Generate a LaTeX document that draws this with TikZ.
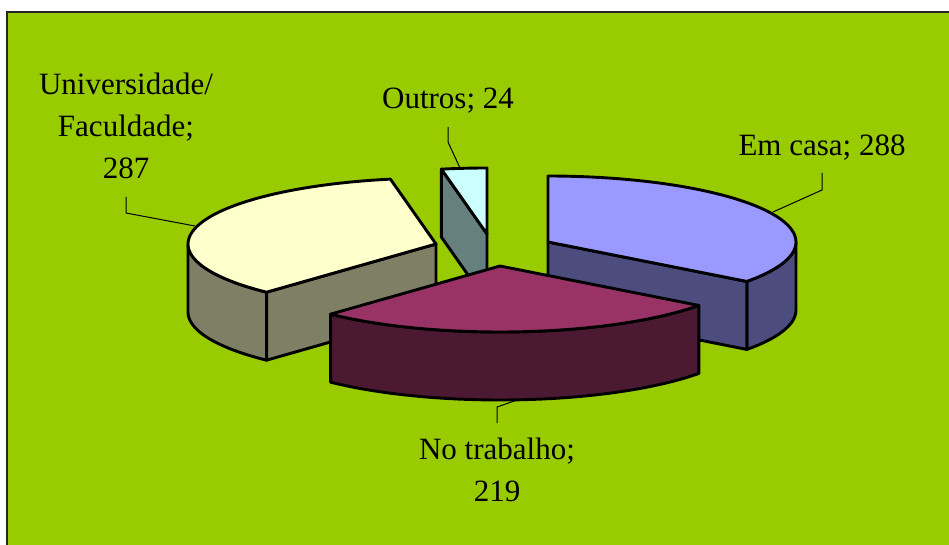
\documentclass[tikz,border=0pt]{standalone}
\usepackage{fontspec}
\setmainfont{Liberation Serif}
\definecolor{bggreen}{HTML}{99CC00}
\definecolor{uniTop}{HTML}{FFFFCC}
\definecolor{uniSide}{HTML}{7F7F66}
\definecolor{outTop}{HTML}{CCFFFF}
\definecolor{outSide}{HTML}{667F7F}
\definecolor{casaTop}{HTML}{9999FF}
\definecolor{casaSide}{HTML}{4C4C7F}
\definecolor{trabTop}{HTML}{993366}
\definecolor{trabSide}{HTML}{4C1933}
\tikzset{
  face/.style={draw=black, line width=2.9pt, line join=round},
  lbl/.style={font=\fontsize{31}{42}\selectfont, inner sep=0pt, align=center},
  leader/.style={draw=black, line width=1pt},
}
\def\RX{248}
\def\RY{66}
\def\HH{68}
\begin{document}
\begin{tikzpicture}[x=1pt,y=-1pt]
\useasboundingbox (0,0) rectangle (949,545);
\clip (0,0) rectangle (949,545);
\fill[white] (0,0) rectangle (949,545);
\fill[bggreen] (7,12) rectangle (955,550);
\draw[black!85, line width=2pt] (7,550) -- (7,12) -- (955,12);

% ---- Outros (center 487,234; 259.4 -> 270)
\filldraw[face, fill=outSide] (487,234) -- ({487+\RX*cos(259.4)},{234+\RY*sin(259.4)})
  -- ({487+\RX*cos(259.4)},{234+\HH+\RY*sin(259.4)}) -- (487,234+\HH) -- cycle;
\filldraw[face, fill=outTop] (487,234) -- plot[domain=259.4:270, samples=6] ({487+\RX*cos(\x)},{234+\RY*sin(\x)}) -- cycle;

% ---- Universidade (center 436,244; 133.1 -> 259.4)
\filldraw[face, fill=uniSide] plot[domain=133.1:180, samples=30] ({436+\RX*cos(\x)},{244+\RY*sin(\x)})
  -- plot[domain=180:133.1, samples=30] ({436+\RX*cos(\x)},{244+\HH+\RY*sin(\x)}) -- cycle;
\filldraw[face, fill=uniSide] (436,244) -- ({436+\RX*cos(133.1)},{244+\RY*sin(133.1)})
  -- ({436+\RX*cos(133.1)},{244+\HH+\RY*sin(133.1)}) -- (436,244+\HH) -- cycle;
\filldraw[face, fill=uniTop] (436,244) -- plot[domain=133.1:259.4, samples=60] ({436+\RX*cos(\x)},{244+\RY*sin(\x)}) -- cycle;

% ---- Em casa (center 548,242; -90 -> 36.7)
\filldraw[face, fill=casaSide] plot[domain=0:36.7, samples=25] ({548+\RX*cos(\x)},{242+\RY*sin(\x)})
  -- plot[domain=36.7:0, samples=25] ({548+\RX*cos(\x)},{242+\HH+\RY*sin(\x)}) -- cycle;
\filldraw[face, fill=casaSide] (548,242) -- ({548+\RX*cos(36.7)},{242+\RY*sin(36.7)})
  -- ({548+\RX*cos(36.7)},{242+\HH+\RY*sin(36.7)}) -- (548,242+\HH) -- cycle;
\filldraw[face, fill=casaTop] (548,242) -- plot[domain=-90:36.7, samples=60] ({548+\RX*cos(\x)},{242+\RY*sin(\x)}) -- cycle;

% ---- No trabalho (center 500,266; 36.7 -> 133.1)
\filldraw[face, fill=trabSide] plot[domain=36.7:133.1, samples=50] ({500+\RX*cos(\x)},{266+\RY*sin(\x)})
  -- plot[domain=133.1:36.7, samples=50] ({500+\RX*cos(\x)},{266+\HH+\RY*sin(\x)}) -- cycle;
\filldraw[face, fill=trabTop] (500,266) -- plot[domain=36.7:133.1, samples=50] ({500+\RX*cos(\x)},{266+\RY*sin(\x)}) -- cycle;

% ---- labels (base anchor = baseline of the last line)
\node[lbl, anchor=base] (uniLbl) at (126,179) {Universidade/\\Faculdade;\\287};
\node[lbl, anchor=base] (outLbl) at (448,109) {Outros; 24};
\node[lbl, anchor=base] (casaLbl) at (822,156) {Em casa; 288};
\node[lbl, anchor=base] (trabLbl) at (497,501) {No trabalho;\\219};

% ---- leader lines
\coordinate (uniA) at (126,197);
\coordinate (uniB) at (126,213);
\coordinate (uniC) at (195,226);
\coordinate (outA) at (448,127);
\coordinate (outB) at (448,142);
\coordinate (outC) at (460,168);
\coordinate (casaA) at (822,173);
\coordinate (casaB) at (822,190);
\coordinate (casaC) at (773,212);
\coordinate (trabA) at (497,423);
\coordinate (trabB) at (497,407);
\coordinate (trabC) at (517,400);
\draw[leader] (uniA) -- (uniB) -- (uniC);
\draw[leader] (outA) -- (outB) -- (outC);
\draw[leader] (casaA) -- (casaB) -- (casaC);
\draw[leader] (trabA) -- (trabB) -- (trabC);
\end{tikzpicture}
\end{document}
